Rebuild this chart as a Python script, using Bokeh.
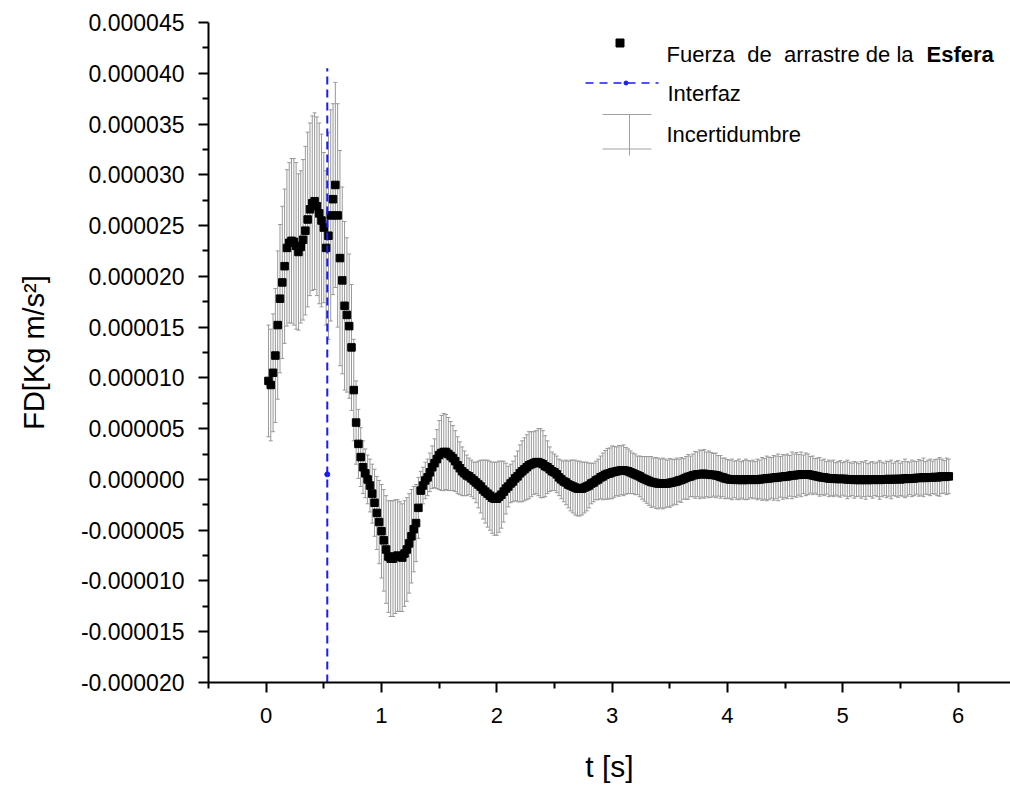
import numpy as np
from bokeh.plotting import figure
from bokeh.models import (ColumnDataSource, Range1d, FixedTicker, PrintfTickFormatter,
                          Whisker, TeeHead, Label)
from bokeh.embed import file_html
from bokeh.resources import INLINE

# ---------------- data ----------------
t_s = [
    0.02, 0.04, 0.06, 0.08, 0.10, 0.12, 0.14, 0.16, 0.18, 0.20,
    0.22, 0.24, 0.26, 0.28, 0.30, 0.32, 0.34, 0.36, 0.38, 0.40,
    0.42, 0.44, 0.46, 0.48, 0.50, 0.52, 0.54, 0.56, 0.58, 0.60,
    0.62, 0.64, 0.66, 0.68, 0.70, 0.72, 0.74, 0.76, 0.78, 0.80,
    0.82, 0.84, 0.86, 0.88, 0.90, 0.92, 0.94, 0.96, 0.98, 1.00,
    1.02, 1.04, 1.06, 1.08, 1.10, 1.12, 1.14, 1.16, 1.18, 1.20,
    1.22, 1.24, 1.26, 1.28, 1.30, 1.32, 1.34, 1.36, 1.38, 1.40,
    1.42, 1.44, 1.46, 1.48, 1.50, 1.52, 1.54, 1.56, 1.58, 1.60,
    1.62, 1.64, 1.66, 1.68, 1.70, 1.72, 1.74, 1.76, 1.78, 1.80,
    1.82, 1.84, 1.86, 1.88, 1.90, 1.92, 1.94, 1.96, 1.98, 2.00,
    2.02, 2.04, 2.06, 2.08, 2.10, 2.12, 2.14, 2.16, 2.18, 2.20,
    2.22, 2.24, 2.26, 2.28, 2.30, 2.32, 2.34, 2.36, 2.38, 2.40,
    2.42, 2.44, 2.46, 2.48, 2.50, 2.52, 2.54, 2.56, 2.58, 2.60,
    2.62, 2.64, 2.66, 2.68, 2.70, 2.72, 2.74, 2.76, 2.78, 2.80,
    2.82, 2.84, 2.86, 2.88, 2.90, 2.92, 2.94, 2.96, 2.98, 3.00,
    3.02, 3.04, 3.06, 3.08, 3.10, 3.12, 3.14, 3.16, 3.18, 3.20,
    3.22, 3.24, 3.26, 3.28, 3.30, 3.32, 3.34, 3.36, 3.38, 3.40,
    3.42, 3.44, 3.46, 3.48, 3.50, 3.52, 3.54, 3.56, 3.58, 3.60,
    3.62, 3.64, 3.66, 3.68, 3.70, 3.72, 3.74, 3.76, 3.78, 3.80,
    3.82, 3.84, 3.86, 3.88, 3.90, 3.92, 3.94, 3.96, 3.98, 4.00,
    4.02, 4.04, 4.06, 4.08, 4.10, 4.12, 4.14, 4.16, 4.18, 4.20,
    4.22, 4.24, 4.26, 4.28, 4.30, 4.32, 4.34, 4.36, 4.38, 4.40,
    4.42, 4.44, 4.46, 4.48, 4.50, 4.52, 4.54, 4.56, 4.58, 4.60,
    4.62, 4.64, 4.66, 4.68, 4.70, 4.72, 4.74, 4.76, 4.78, 4.80,
    4.82, 4.84, 4.86, 4.88, 4.90, 4.92, 4.94, 4.96, 4.98, 5.00,
    5.02, 5.04, 5.06, 5.08, 5.10, 5.12, 5.14, 5.16, 5.18, 5.20,
    5.22, 5.24, 5.26, 5.28, 5.30, 5.32, 5.34, 5.36, 5.38, 5.40,
    5.42, 5.44, 5.46, 5.48, 5.50, 5.52, 5.54, 5.56, 5.58, 5.60,
    5.62, 5.64, 5.66, 5.68, 5.70, 5.72, 5.74, 5.76, 5.78, 5.80,
    5.82, 5.84, 5.86, 5.88, 5.90, 5.92,
]

# drag force of the sphere, in units of 1e-6 Kg m/s^2
fd_micro = [
    9.7, 9.3, 10.5, 12.2, 15.2, 17.8, 19.4, 21.0, 22.8, 23.3,
    23.5, 23.4, 23.0, 22.4, 22.9, 23.6, 24.5, 25.6, 26.6, 27.2,
    27.4, 26.9, 26.2, 25.5, 24.8, 22.8, 24.0, 26.0, 27.6, 29.0,
    26.0, 21.8, 19.6, 17.1, 16.2, 15.1, 13.0, 8.8, 5.6, 3.5,
    2.2, 1.2, 0.6, 0.0, -0.6, -1.4, -2.3, -3.3, -4.2, -5.1,
    -6.0, -6.9, -7.6, -7.8, -7.8, -7.6, -7.5, -7.6, -7.7, -7.3,
    -6.9, -6.3, -5.6, -4.9, -4.3, -2.8, -1.1, -0.6, -0.1, 0.2,
    0.7, 1.2, 1.6, 2.0, 2.4, 2.6, 2.7, 2.7, 2.5, 2.3,
    2.1, 1.8, 1.4, 1.1, 0.8, 0.6, 0.4, 0.3, 0.1, -0.1,
    -0.3, -0.5, -0.7, -1.0, -1.2, -1.4, -1.6, -1.8, -1.9, -1.9,
    -1.7, -1.5, -1.2, -0.9, -0.7, -0.4, -0.2, 0.1, 0.3, 0.6,
    0.8, 1.0, 1.2, 1.4, 1.5, 1.6, 1.7, 1.7, 1.6, 1.5,
    1.3, 1.2, 1.0, 0.8, 0.7, 0.5, 0.2, 0.0, -0.2, -0.3,
    -0.5, -0.6, -0.7, -0.8, -0.9, -0.9, -0.9, -0.8, -0.7, -0.6,
    -0.4, -0.3, -0.1, 0.0, 0.2, 0.3, 0.45, 0.55, 0.6, 0.7,
    0.75, 0.8, 0.85, 0.9, 0.9, 0.85, 0.8, 0.7, 0.6, 0.5,
    0.4, 0.3, 0.15, 0.05, -0.05, -0.15, -0.25, -0.3, -0.35, -0.4,
    -0.4, -0.4, -0.4, -0.4, -0.35, -0.3, -0.25, -0.2, -0.1, -0.05,
    0.05, 0.15, 0.25, 0.3, 0.4, 0.45, 0.5, 0.5, 0.55, 0.55,
    0.5, 0.5, 0.45, 0.45, 0.4, 0.35, 0.25, 0.2, 0.1, 0.05,
    0.0, 0.0, 0.0, -0.05, 0.0, -0.05, -0.05, 0.0, -0.05, 0.0,
    0.0, -0.05, 0.0, 0.0, 0.05, 0.05, 0.1, 0.1, 0.15, 0.15,
    0.2, 0.2, 0.25, 0.25, 0.3, 0.3, 0.35, 0.4, 0.4, 0.45,
    0.45, 0.5, 0.5, 0.5, 0.5, 0.45, 0.4, 0.35, 0.3, 0.25,
    0.2, 0.2, 0.15, 0.1, 0.1, 0.1, 0.05, 0.05, 0.05, 0.05,
    0.05, 0.0, 0.0, 0.0, -0.05, 0.0, -0.05, -0.05, 0.0, -0.05,
    -0.05, 0.0, -0.05, 0.0, 0.0, -0.05, 0.0, 0.0, 0.0, 0.05,
    0.0, 0.0, 0.05, 0.05, 0.0, 0.05, 0.1, 0.05, 0.1, 0.1,
    0.1, 0.15, 0.15, 0.15, 0.2, 0.15, 0.2, 0.2, 0.2, 0.25,
    0.2, 0.25, 0.3, 0.25, 0.3, 0.3,
]

# uncertainty (half length of each error bar), in units of 1e-6
err_micro = [
    5.5, 5.5, 5.8, 6.6, 7.3, 7.3, 7.5, 7.6, 7.7, 7.9,
    8.1, 8.2, 8.2, 7.7, 7.5, 7.9, 8.3, 8.6, 8.5, 8.6,
    8.7, 8.8, 8.9, 8.5, 7.4, 7.6, 10.2, 10.4, 9.4, 10.1,
    11.0, 10.6, 9.2, 8.3, 7.6, 7.1, 6.2, 5.0, 4.1, 3.4,
    2.9, 2.6, 2.4, 2.4, 2.6, 2.9, 3.3, 3.6, 4.1, 4.6,
    5.0, 5.3, 5.5, 5.7, 5.7, 5.6, 5.5, 5.4, 5.3, 5.2,
    5.1, 4.9, 4.6, 4.2, 3.8, 3.0, 1.9, 1.8, 1.8, 1.8,
    1.9, 2.1, 2.4, 2.9, 3.4, 3.7, 3.8, 3.7, 3.6, 3.4,
    3.2, 3.0, 2.8, 2.6, 2.4, 2.2, 2.0, 1.8, 1.8, 1.8,
    2.0, 2.3, 2.6, 2.9, 3.1, 3.3, 3.4, 3.5, 3.6, 3.6,
    3.5, 3.3, 3.0, 2.5, 2.0, 1.9, 2.0, 2.2, 2.5, 2.8,
    3.0, 3.1, 3.2, 3.3, 3.2, 3.1, 3.1, 3.3, 3.4, 3.3,
    3.0, 2.6, 2.2, 1.9, 1.8, 1.8, 1.8, 1.9, 2.0, 2.2,
    2.3, 2.5, 2.6, 2.7, 2.7, 2.7, 2.6, 2.5, 2.4, 2.2,
    2.0, 1.9, 1.9, 2.0, 2.1, 2.3, 2.4, 2.5, 2.5, 2.6,
    2.5, 2.4, 2.5, 2.4, 2.5, 2.3, 2.2, 2.1, 2.0, 2.0,
    1.9, 2.0, 2.1, 2.2, 2.3, 2.4, 2.5, 2.4, 2.5, 2.5,
    2.4, 2.5, 2.4, 2.3, 2.4, 2.3, 2.2, 2.3, 2.1, 2.2,
    2.0, 2.1, 2.2, 2.0, 2.1, 2.3, 2.2, 2.4, 2.3, 2.4,
    2.2, 2.3, 2.2, 2.1, 2.2, 2.0, 2.1, 1.9, 2.0, 1.9,
    1.9, 2.0, 1.8, 1.9, 2.0, 1.8, 1.9, 2.0, 1.9, 1.8,
    1.9, 1.8, 2.0, 1.9, 2.1, 2.0, 2.2, 2.1, 2.0, 2.2,
    2.1, 2.3, 2.0, 2.2, 2.1, 2.2, 2.0, 2.3, 2.1, 2.2,
    2.0, 2.2, 1.9, 2.1, 2.0, 1.8, 1.9, 1.7, 1.8, 1.9,
    1.7, 1.8, 1.6, 1.8, 1.7, 1.8, 1.6, 1.7, 1.8, 1.6,
    1.7, 1.9, 1.7, 1.6, 1.8, 1.7, 1.6, 1.8, 1.7, 1.9,
    1.6, 1.7, 1.8, 1.6, 1.7, 1.9, 1.7, 1.6, 1.8, 1.7,
    1.9, 1.6, 1.7, 1.8, 1.6, 1.7, 1.9, 1.7, 1.6, 1.8,
    1.7, 1.6, 1.8, 1.7, 1.9, 1.6, 1.7, 1.8, 1.6, 1.7,
    1.8, 1.9, 1.7, 1.6, 1.8, 1.7,
]

interfaz_t = [0.53, 0.53]
interfaz_fd = [-0.000020, 0.0000405]
interfaz_dot_t = [0.53]
interfaz_dot_fd = [0.0000005]

x_major = [0, 1, 2, 3, 4, 5, 6]
x_minor = [-0.5, 0.5, 1.5, 2.5, 3.5, 4.5, 5.5, 6.5]
y_major = [-0.000020, -0.000015, -0.000010, -0.000005, 0.0, 0.000005, 0.000010,
           0.000015, 0.000020, 0.000025, 0.000030, 0.000035, 0.000040, 0.000045]
y_minor = [-0.0000175, -0.0000125, -0.0000075, -0.0000025, 0.0000025, 0.0000075,
           0.0000125, 0.0000175, 0.0000225, 0.0000275, 0.0000325, 0.0000375, 0.0000425]

# ---------------- layout ----------------
W, H = 1010, 787
BL, BR, BT, BB = 208, 0, 22, 105
X0, X1 = -0.5, 6.455
Y0, Y1 = -0.000020, 0.000045
FW, FH = W - BL - BR, H - BT - BB


def px2x(px):
    return X0 + (px - BL) / FW * (X1 - X0)


def py2y(py):
    return Y1 - (py - BT) / FH * (Y1 - Y0)


FONT = "Liberation Sans"
GRAY = "#999999"
BLUE = "#1a1aff"

fd = np.array(fd_micro) * 1e-6
err = np.array(err_micro) * 1e-6
src = ColumnDataSource(dict(t=t_s, fd=fd, lower=fd - err, upper=fd + err))

p = figure(width=W, height=H, x_range=Range1d(X0, X1), y_range=Range1d(Y0, Y1),
           output_backend="svg", toolbar_location=None,
           min_border_left=BL, min_border_right=BR, min_border_top=BT, min_border_bottom=BB)
p.outline_line_color = None
p.grid.visible = False
p.background_fill_color = "white"
p.border_fill_color = "white"

# axes
for ax in (p.xaxis[0], p.yaxis[0]):
    ax.axis_line_width = 2
    ax.axis_line_color = "black"
    ax.major_tick_line_width = 2
    ax.minor_tick_line_width = 2
    ax.major_tick_line_color = "black"
    ax.minor_tick_line_color = "black"
    ax.major_tick_in = 0
    ax.minor_tick_in = 0
    ax.major_tick_out = 10
    ax.minor_tick_out = 6
    ax.major_label_text_font = FONT
    ax.major_label_text_color = "black"
    ax.axis_label_text_font = FONT
    ax.axis_label_text_font_style = "normal"
    ax.axis_label_text_color = "black"

p.xaxis.ticker = FixedTicker(ticks=x_major, minor_ticks=x_minor)
p.yaxis.ticker = FixedTicker(ticks=y_major, minor_ticks=y_minor)
p.yaxis.formatter = PrintfTickFormatter(format="%.6f")
p.xaxis.major_label_text_font_size = "22px"
p.yaxis.major_label_text_font_size = "23px"
p.xaxis.major_label_standoff = 15
p.yaxis.major_label_standoff = 14
p.xaxis.axis_label = "t [s]"
p.xaxis.axis_label_text_font_size = "30px"
p.xaxis.axis_label_standoff = 24
p.yaxis.axis_label = "FD[Kg m/s²]"
p.yaxis.axis_label_text_font_size = "29px"
p.yaxis.axis_label_standoff = 28

# error bars
whisk = Whisker(source=src, base="t", upper="upper", lower="lower",
                line_color=GRAY, line_width=1, level="underlay",
                upper_head=TeeHead(size=4, line_color=GRAY, line_width=1),
                lower_head=TeeHead(size=4, line_color=GRAY, line_width=1))
p.add_layout(whisk)

# drag force points
p.scatter("t", "fd", source=src, marker="square", size=7.5,
          fill_color="black", line_color="black")

# interface
p.line(interfaz_t, interfaz_fd, line_color=BLUE, line_width=2, line_dash="8 5")
p.scatter(interfaz_dot_t, interfaz_dot_fd, marker="circle", size=5,
          fill_color=BLUE, line_color=BLUE)

# ---------------- legend (drawn by hand) ----------------
p.scatter([px2x(619.5)], [py2y(42.5)], marker="square", size=8,
          fill_color="black", line_color="black")
p.line([px2x(585), px2x(658)], [py2y(82.5), py2y(82.5)], line_color=BLUE,
       line_width=1.5, line_dash="8 6")
p.scatter([px2x(625.5)], [py2y(82.5)], marker="circle", size=4,
          fill_color=BLUE, line_color=BLUE)
p.segment(x0=[px2x(602), px2x(602), px2x(629)],
          y0=[py2y(114), py2y(148.5), py2y(114)],
          x1=[px2x(651), px2x(651), px2x(629)],
          y1=[py2y(114), py2y(148.5), py2y(155)],
          line_color="#a0a0a0", line_width=1)

leg_kw = dict(text_font=FONT, text_font_size="22px", text_color="black",
              text_baseline="alphabetic")
p.add_layout(Label(x=px2x(666), y=py2y(54), text="Fuerza\u00a0 de\u00a0 arrastre de la", **leg_kw))
p.add_layout(Label(x=px2x(926), y=py2y(54), text="Esfera", text_font_style="bold", **leg_kw))
p.add_layout(Label(x=px2x(667), y=py2y(93), text="Interfaz", **leg_kw))
p.add_layout(Label(x=px2x(666), y=py2y(134), text="Incertidumbre", **leg_kw))

open("out.html", "w").write(file_html(p, INLINE))
